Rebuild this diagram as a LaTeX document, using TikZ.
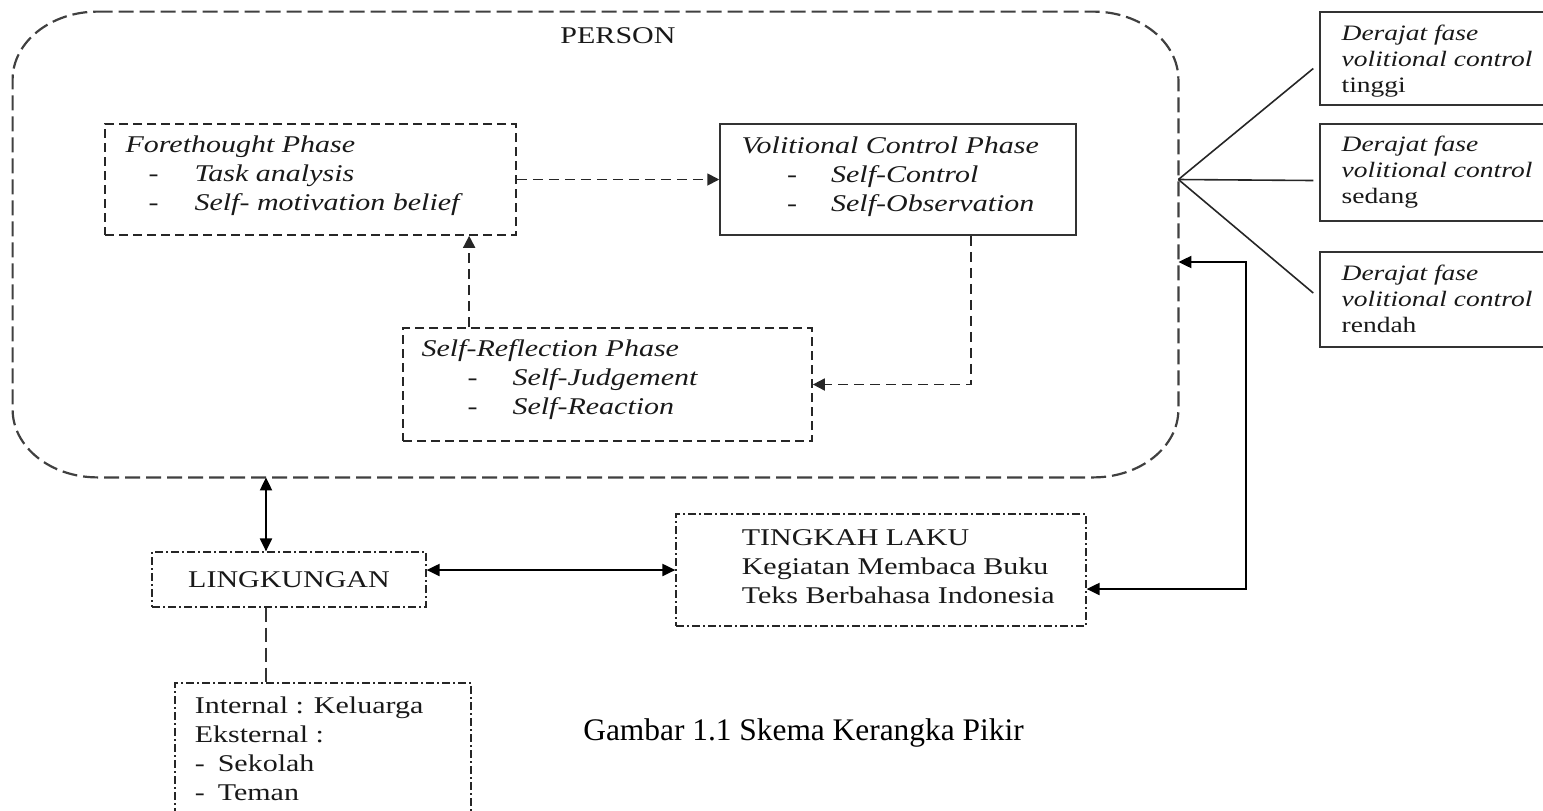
\documentclass[tikz,border=0pt]{standalone}
\usepackage{fontspec}
\setmainfont{Liberation Serif}[FakeStretch=1.25]
\newfontfamily\capfont{Liberation Serif}
\usetikzlibrary{arrows.meta,calc}
\begin{document}
\begin{tikzpicture}[x=0.5pt,y=-0.5pt,
  persondash/.style={draw=black!75, line width=1.1pt, dash pattern=on 7.5pt off 3pt},
  phasedash/.style={draw=black!85, line width=0.85pt, dash pattern=on 4.5pt off 2.5pt},
  dashconn/.style={draw=black!85, line width=0.9pt, dash pattern=on 5pt off 3pt},
  longdash/.style={draw=black!80, line width=0.9pt, dash pattern=on 7pt off 3pt},
  dashdotbox/.style={draw=black!85, line width=0.6pt, dash pattern=on 4pt off 1.5pt on 1pt off 1.5pt},
  solidbox/.style={draw=black!80, line width=0.75pt},
  box/.style={rectangle, inner sep=0pt},
  tip/.style={-{Triangle[length=6pt,width=6pt]}},
  dbl/.style={{Triangle[length=6.5pt,width=6pt]}-{Triangle[length=6.5pt,width=6pt]}},
  solidarrow/.style={draw=black, line width=1pt},
  hubline/.style={draw=black!85, line width=0.8pt},
  txt/.style={inner sep=0pt, anchor=west, align=left, text=black!90, font=\fontsize{12pt}{14.5pt}\selectfont},
  itxt/.style={txt, font=\fontsize{12pt}{14.5pt}\selectfont\itshape},
  rtxt/.style={txt, font=\fontsize{11pt}{13pt}\selectfont\itshape},
]
\useasboundingbox (0,0) rectangle (1543,810);
\clip (0,0) rectangle (1543,810);

% PERSON region
\node[box, minimum width=582.5pt, minimum height=232.5pt] (person) at (595.5,244.5) {};
\draw[persondash] ([xshift=42.5pt]person.north west) -- ([xshift=-42.5pt]person.north east)
  arc[start angle=90, end angle=0, x radius=42.5pt, y radius=34pt]
  -- ([yshift=34pt]person.south east)
  arc[start angle=0, end angle=-90, x radius=42.5pt, y radius=34pt]
  -- ([xshift=42.5pt]person.south west)
  arc[start angle=270, end angle=180, x radius=42.5pt, y radius=34pt]
  -- ([yshift=-34pt]person.north west)
  arc[start angle=180, end angle=90, x radius=42.5pt, y radius=34pt] -- cycle;
\node[txt, anchor=center] (personlbl) at (618,36) {PERSON};

% Phase boxes
\node[box, phasedash, minimum width=205.5pt, minimum height=55.5pt] (fore) at (310.5,179.5) {};
\node[itxt] (foret) at ([xshift=10.5pt,yshift=1.75pt]fore.west)
  {Forethought Phase\\ \hspace*{11.5pt}\makebox[23pt][l]{-}Task analysis\\ \hspace*{11.5pt}\makebox[23pt][l]{-}Self- motivation belief};

\node[box, solidbox, minimum width=178pt, minimum height=55.5pt] (vol) at (898,179.5) {};
\node[itxt] (volt) at ([xshift=11pt,yshift=1.5pt]vol.west)
  {Volitional Control Phase\\ \hspace*{22.75pt}\makebox[22pt][l]{-}Self-Control\\ \hspace*{22.75pt}\makebox[22pt][l]{-}Self-Observation};

\node[box, phasedash, minimum width=204.5pt, minimum height=56.5pt] (sr) at (607.5,384.5) {};
\node[itxt] (srt) at ([xshift=9.5pt,yshift=2.25pt]sr.west)
  {Self-Reflection Phase\\ \hspace*{23pt}\makebox[22.5pt][l]{-}Self-Judgement\\ \hspace*{23pt}\makebox[22.5pt][l]{-}Self-Reaction};

% Right boxes
\node[box, solidbox, minimum width=140pt, minimum height=46.5pt] (d1) at (1460,58.5) {};
\node[rtxt] (d1t) at ([xshift=11pt,yshift=-1.25pt]d1.west) {Derajat fase\\ volitional control\\ {\upshape tinggi}};
\node[box, solidbox, minimum width=140pt, minimum height=48.5pt] (d2) at (1460,172.5) {};
\node[rtxt] (d2t) at ([xshift=11pt,yshift=0.25pt]d2.west) {Derajat fase\\ volitional control\\ {\upshape sedang}};
\node[box, solidbox, minimum width=140pt, minimum height=47.5pt] (d3) at (1460,299.5) {};
\node[rtxt] (d3t) at ([xshift=11pt,yshift=0.25pt]d3.west) {Derajat fase\\ volitional control\\ {\upshape rendah}};

% Bottom boxes
\node[box, dashdotbox, minimum width=137pt, minimum height=27.5pt, font=\fontsize{12pt}{14.5pt}\selectfont, text=black!90] (lk) at (289,579.5) {LINGKUNGAN};
\node[box, dashdotbox, minimum width=205pt, minimum height=56pt] (tk) at (881,570) {};
\node[txt] (tkt) at ([xshift=33pt,yshift=1.5pt]tk.west)
  {TINGKAH LAKU\\ Kegiatan Membaca Buku\\ Teks Berbahasa Indonesia};
\node[box, dashdotbox, minimum width=148pt, minimum height=73.5pt] (int) at (323,756.5) {};
\node[txt, anchor=north west] (intt) at ([xshift=10pt,yshift=-7pt]int.north west)
  {Internal : Keluarga\\ Eksternal :\\ \makebox[11.5pt][l]{-}Sekolah\\ \makebox[11.5pt][l]{-}Teman};

% Caption
\node[inner sep=0pt, font=\capfont\fontsize{15.7pt}{18pt}\selectfont] (cap) at (803.5,733) {Gambar 1.1 Skema Kerangka Pikir};

% Connectors inside PERSON
\draw[dashconn, tip] (fore) -- (vol);
\draw[dashconn, tip] ([xshift=33.5pt]sr.north west) -- ([xshift=33.5pt]sr.north west |- fore.south);
\draw[dashconn, tip] ([xshift=-53pt]vol.south east) |- (sr.east);

% Hub lines to right boxes
\coordinate (hub) at (person.east |- fore.east);
\draw[hubline] (hub) -- ([xshift=-3pt,yshift=-5pt]d1.west);
\draw[hubline] (hub) -- ([xshift=-3pt,yshift=-4pt]d2.west);
\draw[hubline] (hub) -- ([xshift=-3pt,yshift=3.25pt]d3.west);

% Solid arrows
\draw[solidarrow, dbl] ([xshift=-11.5pt]lk.north) -- ([xshift=-11.5pt]lk.north |- person.south);
\draw[solidarrow, dbl] (lk.east |- tk.west) -- (tk.west);
\coordinate (bend) at (1246,262);
\draw[solidarrow, dbl] (person.east |- bend) -- (bend) |- ([yshift=-9.5pt]tk.east);

% Lingkungan to internal/external
\draw[longdash] ([xshift=-11.5pt]lk.south) -- ([xshift=-11.5pt]lk.south |- int.north);
\end{tikzpicture}
\end{document}
